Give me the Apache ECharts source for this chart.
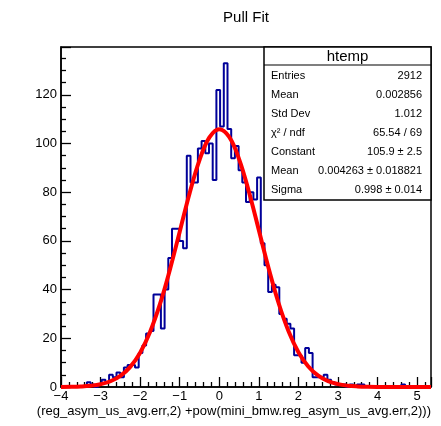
<!DOCTYPE html>
<html><head><meta charset="utf-8">
<script src="https://cdn.jsdelivr.net/npm/echarts@6/dist/echarts.min.js"></script>
<style>html,body{margin:0;padding:0;background:#fff}#c{width:441px;height:426px}</style>
</head><body><div id="c"></div>
<script>
const chartTitle = 'Pull Fit';
const xTitle = '(reg_asym_us_avg.err,2) +pow(mini_bmw.reg_asym_us_avg.err,2)))';
const histName = 'htemp';
const xMin = -4, xMax = 5.35, nBins = 100;
const yMax = 139.65;
const counts = [
  0,0,0,0,0,0,0,2,1,0,
  1,3,2,5,4,6,4,8,9,9,
  8,14,17,22,23,38,38,24,40,53,
  65,65,60,57,95,84,84,98,101,96,
  100,85,122,107,133,106,94,99,89,84,
  76,80,77,86,59,50,39,42,41,30,
  28,26,24,13,13,10,16,14,4,4,
  4,5,3,2,1,1,1,0,1,0,
  1,1,0,0,0,0,0,0,0,0,
  0,0,1,0,0,0,0,0,0,0
];
const fitX = [-4,-3.75,-3.5,-3.25,-3,-2.75,-2.5,-2.25,-2,-1.75,-1.5,-1.25,-1,-0.75,-0.5,-0.25,0,0.25,0.5,0.75,1,1.25,1.5,1.75,2,2.25,2.5,2.75,3,3.25,3.5,3.75,4,4.5,5,5.35];
const fitY = [0.03,0.09,0.22,0.52,1.14,2.35,4.55,8.27,14.1,22.6,34.0,48.1,63.8,79.6,93.2,102.5,105.9,102.7,93.6,80.1,64.4,48.6,34.4,22.9,14.3,8.42,4.64,2.40,1.17,0.53,0.23,0.09,0.035,0.003,0,0];
const statsLabels = ['Entries','Mean','Std Dev','\u03C7\u00B2 / ndf','Constant','Mean','Sigma'];
const statsValues = ['2912','0.002856','1.012','65.54 / 69','105.9 \u00B1 2.5','0.004263 \u00B1 0.018821','0.998 \u00B1 0.014'];

const FONT = '"Liberation Sans", Arial, Helvetica, sans-serif';
const binW = (xMax - xMin) / nBins;
const histData = counts.map((c, i) => [xMin + i * binW, c]);
histData.push([xMax, counts[counts.length - 1]]);
const fitData = fitX.map((x, i) => [x, fitY[i]]);

const box = {x: 264, y: 47, w: 167, h: 153, head: 18, row0: 76, rowH: 19};
const graphics = [
  {type:'text', style:{text: chartTitle, x:246, y:18, align:'center', verticalAlign:'middle', font:'15px '+FONT, fill:'#000'}, z:100},
  {type:'text', style:{text: xTitle, x:431, y:411, align:'right', verticalAlign:'middle', font:'13px '+FONT, fill:'#000'}, z:100},
  {type:'rect', shape:{x:box.x, y:box.y, width:box.w, height:box.h}, style:{fill:'#fff', stroke:'#000', lineWidth:1.5}, z:100},
  {type:'line', shape:{x1:box.x, y1:box.y+box.head, x2:box.x+box.w, y2:box.y+box.head}, style:{stroke:'#000', lineWidth:1.2}, z:101},
  {type:'text', style:{text: histName, x: box.x+box.w/2, y: box.y+box.head/2+0.5, align:'center', verticalAlign:'middle', font:'15px '+FONT, fill:'#000'}, z:101}
];
statsLabels.forEach((lab, i) => {
  const y = box.row0 + i * box.rowH;
  graphics.push({type:'text', style:{text: lab, x: box.x+7, y: y, align:'left', verticalAlign:'middle', font:'11px '+FONT, fill:'#000'}, z:101});
  graphics.push({type:'text', style:{text: statsValues[i], x: box.x+box.w-9, y: y, align:'right', verticalAlign:'middle', font:'11px '+FONT, fill:'#000'}, z:101});
});

const chart = echarts.init(document.getElementById('c'), null, {renderer:'canvas'});
chart.setOption({
  animation: false,
  grid: {left: 61, right: 10, top: 47, bottom: 39, show: true, borderColor: '#000', borderWidth: 1.5, backgroundColor: 'transparent'},
  xAxis: {
    type: 'value', min: xMin, max: xMax, interval: 1,
    axisLine: {show: true, onZero: false, lineStyle: {color: '#000', width: 1.5}},
    axisTick: {show: true, inside: true, length: 10, lineStyle: {color: '#000', width: 1.3}},
    minorTick: {show: true, splitNumber: 5, length: 5, lineStyle: {color: '#000', width: 1.3}},
    splitLine: {show: false}, minorSplitLine: {show: false},
    axisLabel: {color: '#000', fontSize: 13, fontFamily: FONT, margin: 3, showMaxLabel: false,
      formatter: v => v < 0 ? '\u2212' + Math.abs(v) : String(v)}
  },
  yAxis: {
    type: 'value', min: 0, max: yMax, interval: 20,
    axisLine: {show: true, onZero: false, lineStyle: {color: '#000', width: 1.5}},
    axisTick: {show: true, inside: true, length: 10, lineStyle: {color: '#000', width: 1.3}},
    minorTick: {show: true, splitNumber: 4, length: 5, lineStyle: {color: '#000', width: 1.3}},
    splitLine: {show: false}, minorSplitLine: {show: false},
    axisLabel: {color: '#000', fontSize: 13, fontFamily: FONT, margin: 4, showMaxLabel: false}
  },
  series: [
    {type: 'line', data: histData, step: 'end', symbol: 'none', z: 3,
     lineStyle: {color: '#000099', width: 2}},
    {type: 'line', data: fitData, smooth: 0.4, symbol: 'none', z: 4,
     lineStyle: {color: '#ff0000', width: 4}}
  ],
  graphic: graphics
});
</script></body></html>
